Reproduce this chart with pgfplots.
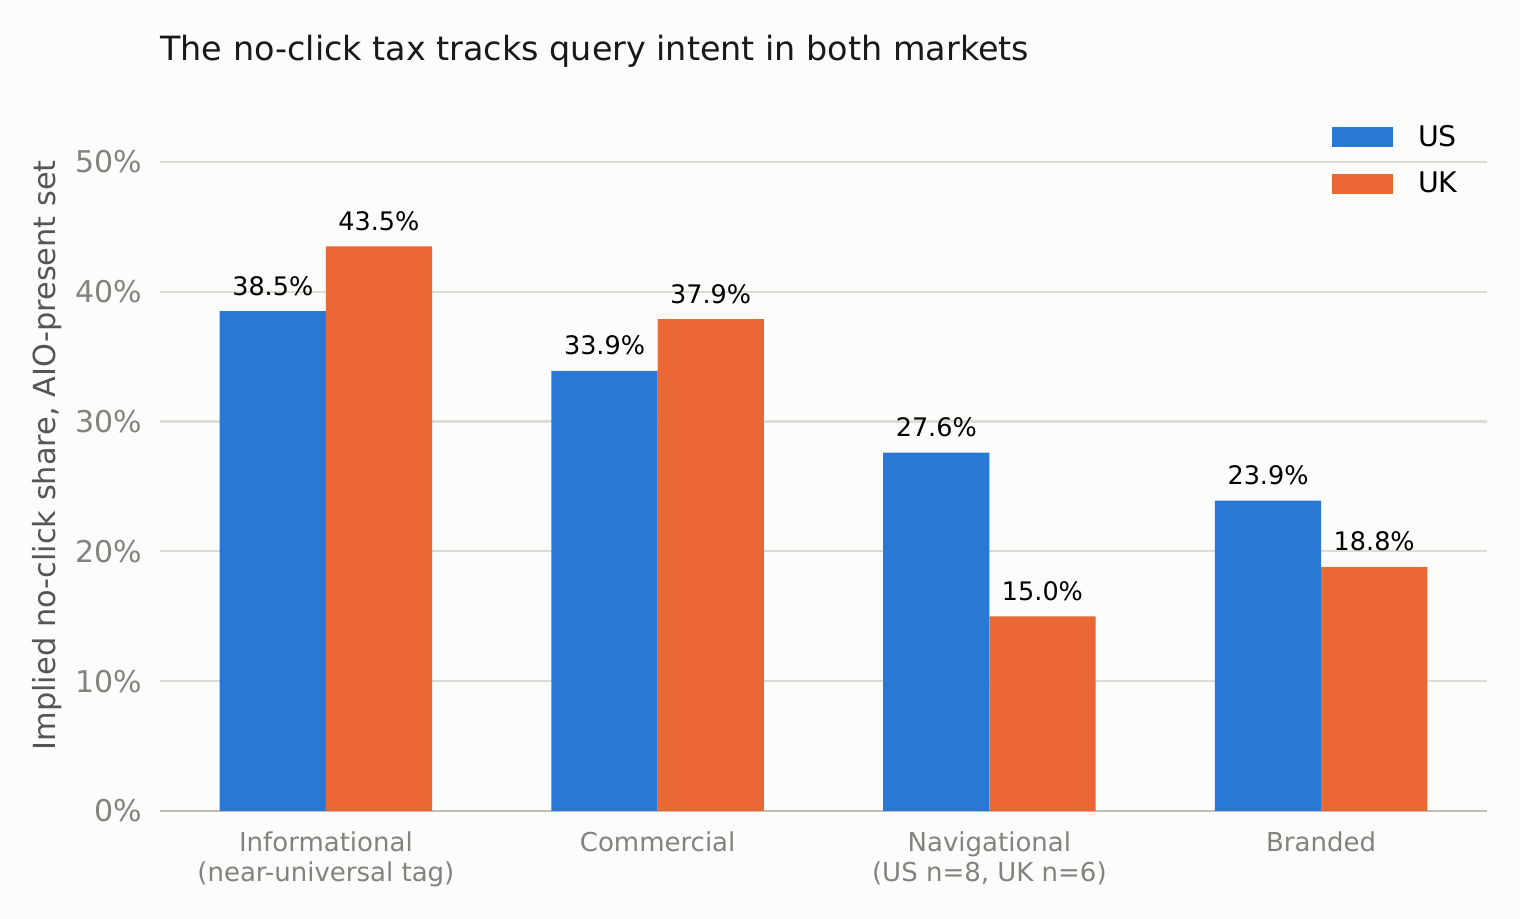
\documentclass[border=0pt]{standalone}
\usepackage{pgfplots}
\pgfplotsset{compat=1.18}
\usepackage{fontspec}
\setmainfont{DejaVu Sans}
\definecolor{usblue}{RGB}{41,120,214}
\definecolor{ukorange}{RGB}{235,104,53}
\definecolor{bg}{RGB}{252,252,250}
\definecolor{gridc}{RGB}{220,220,213}
\definecolor{basec}{RGB}{190,190,184}
\definecolor{tickc}{RGB}{130,130,126}
\definecolor{labc}{RGB}{85,85,85}

\begin{document}
\begin{tikzpicture}
\fill[bg] (0,0) rectangle (760pt,459.5pt);
\useasboundingbox (0,0) rectangle (760pt,459.5pt);
\node[anchor=base west, font=\fontsize{16.7}{20}\selectfont, text=black!90, inner sep=0pt]
  at (80pt,429pt) {The no-click tax tracks query intent in both markets};
\begin{axis}[
    at={(80pt,54pt)}, anchor=south west,
    scale only axis, width=663.5pt, height=340.75pt,
    xmin=-0.5, xmax=3.5,
    ymin=0, ymax=52.5,
    xtick={0,1,2,3},
    xticklabels={{Informational\\(near-universal tag)},Commercial,{Navigational\\(US n=8, UK n=6)},Branded},
    ytick={0,10,...,50},
    yticklabel={\pgfmathprintnumber{\tick}\%},
    /pgf/number format/assume math mode=true,
    major tick length=0pt,
    separate axis lines,
    axis x line*=bottom,
    axis y line*=left,
    x axis line style={draw=basec, line width=1pt, -},
    y axis line style={draw=none},
    ymajorgrids,
    grid style={draw=gridc, line width=1.1pt},
    yticklabel style={font=\fontsize{15}{17}\selectfont, text=tickc, xshift=-5.5pt},
    xticklabel style={font=\fontsize{13}{15}\selectfont, text=tickc, align=center, yshift=-7pt},
    ylabel={Implied no-click share, AIO-present set},
    ylabel style={at={(axis description cs:0,0.522)}, anchor=center, yshift=56.5pt,
      font=\fontsize{15.2}{18}\selectfont, text=labc},
    ybar=0pt, bar width=0.32,
    nodes near coords={\pgfmathprintnumber[fixed,fixed zerofill,precision=1]{\pgfplotspointmeta}\%},
    nodes near coords style={anchor=base, yshift=8pt, font=\fontsize{12.75}{15}\selectfont, text=black,
      /pgf/number format/assume math mode=true},
    legend image code/.code={\fill[#1] (0pt,-5.15pt) rectangle (30.5pt,5.15pt); \path (41pt,0pt);},
    legend style={font=\fontsize{14.2}{16}\selectfont, draw=none, fill=none,
      at={(rel axis cs:0.883,1.013)}, anchor=north west, inner sep=0pt, row sep=7.5pt},
    legend cell align=left,
]
\addplot[fill=usblue, draw=none, bar shift=-0.16] coordinates {(0,38.5) (1,33.9) (2,27.6) (3,23.9)};
\addplot[fill=ukorange, draw=none, bar shift=0.16] coordinates {(0,43.5) (1,37.9) (2,15.0) (3,18.8)};
\legend{US,UK}
\end{axis}
\end{tikzpicture}
\end{document}
